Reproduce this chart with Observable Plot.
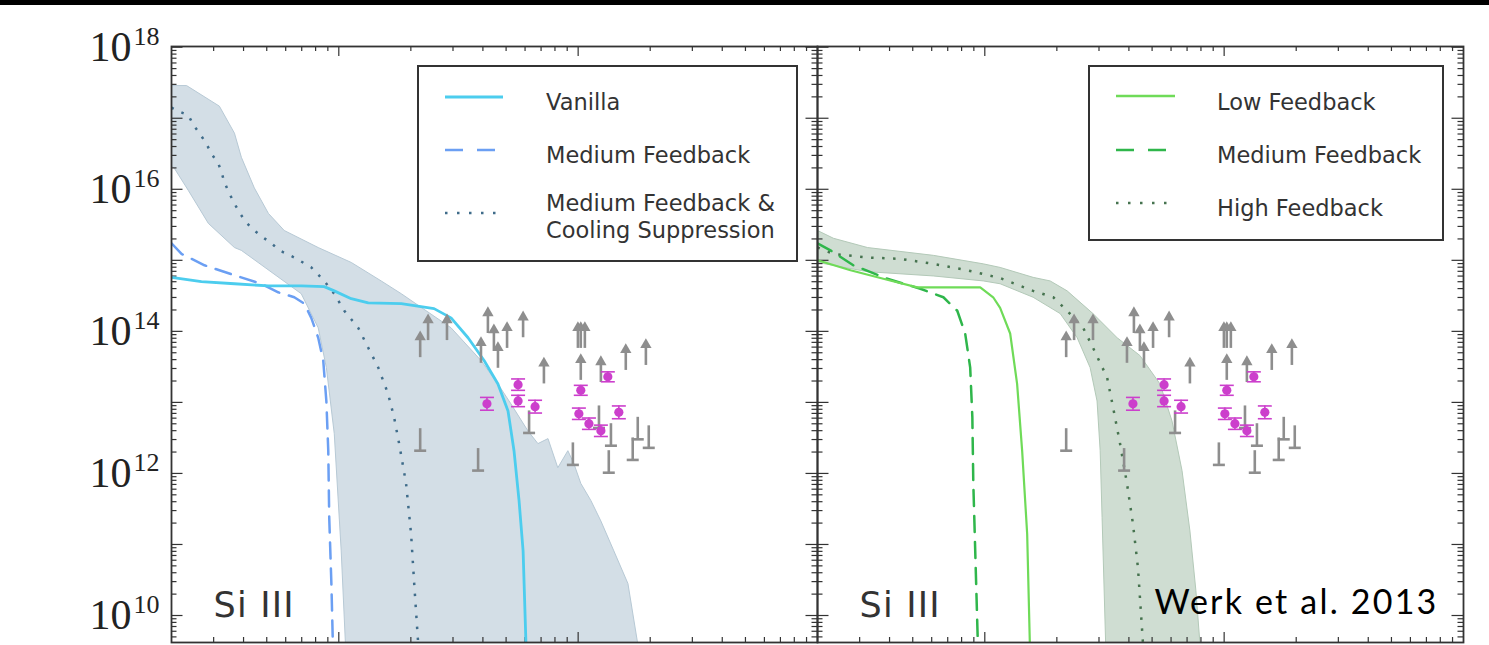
<!DOCTYPE html>
<html><head><meta charset="utf-8">
<script src="https://cdn.jsdelivr.net/npm/d3@7"></script>
<script src="https://cdn.jsdelivr.net/npm/@observablehq/plot@0.6"></script>
<style>
html,body{margin:0;padding:0;background:#fff;}
#bar{height:5px;background:#000;}
#chart{width:1489px;height:640px;}
</style></head><body>
<div id="bar"></div>
<div id="chart"></div>
<script>
// ---- data: [log10 R (kpc), log10 N (cm^-2)] ----
const panels = ["L", "R"];

// Left panel
const bandL = [
[0.301,17.46],[0.364,17.46],[0.501,17.17],[0.564,16.79],[0.593,16.45],[0.647,16.02],[0.706,15.66],[0.772,15.42],[0.914,15.18],[1.052,14.97],[1.177,14.71],[1.261,14.53],[1.469,14.05],[1.594,13.59],[1.665,13.26],[1.719,12.98],[1.790,12.60],[1.832,12.42],[1.874,12.49],[1.915,12.08],[1.957,12.32],[1.982,12.14],[2.011,11.86],[2.053,11.62],[2.095,11.33],[2.149,10.91],[2.208,10.45],[2.249,9.60],[2.262,9.36],
[1.031,9.36],[1.010,10.91],[0.981,12.56],[0.948,13.49],[0.914,14.05],[0.843,14.53],[0.593,15.14],[0.564,15.18],[0.455,15.52],[0.372,15.98],[0.314,16.29],[0.301,16.33]
];
const coolSupp = [
[0.301,17.15],[0.322,17.11],[0.372,17.04],[0.393,16.90],[0.418,16.79],[0.447,16.64],[0.468,16.50],[0.497,16.36],[0.510,16.24],[0.522,16.10],[0.543,15.94],[0.564,15.80],[0.585,15.67],[0.614,15.53],[0.647,15.42],[0.685,15.32],[0.718,15.24],[0.752,15.14],[0.814,15.04],[0.885,14.90],[0.939,14.71],[0.981,14.53],[1.023,14.29],[1.081,14.05],[1.123,13.77],[1.165,13.49],[1.206,13.12],[1.231,12.79],[1.252,12.42],[1.281,11.86],[1.302,11.15],[1.315,10.45],[1.331,9.64],[1.335,9.36]
];
const vanilla = [
[0.301,14.76],[0.426,14.70],[0.564,14.67],[0.706,14.64],[0.843,14.64],[0.939,14.63],[0.981,14.57],[1.052,14.46],[1.123,14.40],[1.261,14.39],[1.398,14.32],[1.469,14.19],[1.540,13.91],[1.607,13.59],[1.665,13.26],[1.707,12.88],[1.732,12.32],[1.753,11.62],[1.770,10.91],[1.782,9.60],[1.786,9.36]
];
const medFbL = [
[0.301,15.24],[0.343,15.09],[0.439,14.93],[0.564,14.79],[0.676,14.67],[0.747,14.55],[0.814,14.48],[0.856,14.39],[0.885,14.19],[0.914,13.91],[0.935,13.59],[0.948,13.02],[0.956,12.32],[0.960,11.38],[0.969,10.45],[0.977,9.36]
];

// Right panel
const bandR = [
[0.301,15.42],[0.368,15.31],[0.510,15.18],[0.785,15.07],[0.994,14.95],[1.064,14.90],[1.202,14.76],[1.273,14.71],[1.344,14.57],[1.452,14.25],[1.553,13.91],[1.648,13.66],[1.732,13.26],[1.782,12.74],[1.824,12.04],[1.857,11.19],[1.882,10.35],[1.899,9.60],[1.903,9.36],
[1.507,9.36],[1.490,11.38],[1.482,12.32],[1.469,13.02],[1.440,13.49],[1.386,13.91],[1.315,14.25],[1.202,14.48],[1.064,14.67],[0.994,14.71],[0.785,14.78],[0.510,14.84],[0.301,14.97]
];
const highFb = [
[0.301,15.18],[0.368,15.09],[0.510,15.04],[0.647,15.02],[0.785,14.95],[0.927,14.86],[1.064,14.75],[1.202,14.57],[1.286,14.48],[1.344,14.29],[1.411,14.05],[1.452,13.77],[1.511,13.35],[1.536,12.93],[1.565,12.42],[1.594,11.86],[1.619,11.29],[1.640,10.67],[1.661,9.60],[1.665,9.36]
];
const lowFb = [
[0.301,15.00],[0.439,14.86],[0.576,14.74],[0.718,14.62],[0.856,14.62],[0.981,14.62],[1.035,14.48],[1.064,14.33],[1.106,13.97],[1.135,13.26],[1.156,12.32],[1.177,11.15],[1.190,9.36]
];
const medFbR = [
[0.301,15.24],[0.355,15.14],[0.451,14.93],[0.593,14.74],[0.731,14.60],[0.827,14.48],[0.885,14.29],[0.918,13.97],[0.939,13.49],[0.948,12.79],[0.952,11.86],[0.960,10.91],[0.973,9.36]
];

// Observations (Werk et al. 2013), shown in both panels
const lowerLogR = [1.340,1.373,1.452,1.623,1.594,1.648,1.665,1.703,1.770,1.857,1.999,2.011,2.028,2.011,2.095,2.199,2.283];
const lowerLogN = [13.63,13.87,13.87,13.97,13.55,13.73,13.48,13.76,13.91,13.26,13.76,13.76,13.76,13.31,13.28,13.45,13.52];
const upperLogR = [1.340,1.582,1.795,1.978,2.087,2.137,2.128,2.228,2.249,2.295];
const upperLogN = [12.63,12.35,12.88,12.43,12.95,12.70,12.32,12.50,12.79,12.67];
const detLogR = [1.619,1.749,1.749,1.820,2.011,2.124,2.003,2.045,2.095,2.170];
const detLogN = [12.98,13.25,13.02,12.94,13.17,13.36,12.84,12.70,12.60,12.86];
const detErr  = [0.09,0.08,0.08,0.09,0.07,0.07,0.08,0.08,0.08,0.09];

// Axis ticks / labels
const yLabelExp = [18, 16, 14, 12, 10];
const yMajorExp = [10, 11, 12, 13, 14, 15, 16, 17, 18];
const minorMult = [2, 3, 4, 5, 6, 7, 8, 9];
const xMajor = [10, 100];
const xMinorBase = [1, 10, 100];

// ---- build tables ----
const rows = (pairs, panel) => pairs.map(([r, n]) => ({R: 10 ** r, N: 10 ** n, panel}));
const obs = (lr, ln, extra) => lr.map((r, i) => ({R: 10 ** r, N: 10 ** ln[i], err: extra ? extra[i] : 0}));
const lowerRows = obs(lowerLogR, lowerLogN);
const upperRows = obs(upperLogR, upperLogN);
const detRows = obs(detLogR, detLogN, detErr);

const yLo = 10 ** 9.62, yHi = 10 ** 18.01;
const yMajor = yMajorExp.map(e => 10 ** e);
const yMinor = [9, ...yMajorExp.slice(0, -1)].flatMap(e => minorMult.map(k => k * 10 ** e)).filter(v => v > yLo && v < yHi);
const xMinor = xMinorBase.flatMap(b => minorMult.map(k => k * b)).filter(v => v > 2 && v < 1000);

const W = 1489, H = 640, mL = 170, mR = 26, mT = 41, mB = 3;
const PW = (W - mL - mR) / 2, PH = H - mT - mB;

const hbar = {draw(ctx, size) { const w = Math.sqrt(size / Math.PI); ctx.moveTo(-w, 0); ctx.lineTo(w, 0); }};

const C = {
  bandL: "#d3dee6", bandLEdge: "#b7c9d5", dotL: "#3f6c8a", cyan: "#4ccdee", blue: "#6b9ff3",
  bandR: "#cfddd2", bandREdge: "#b3c9b8", dotR: "#46734f", lgreen: "#6fdb58", dgreen: "#2fb64b",
  grey: "#8e8e8e", mag: "#cc3fcc", axis: "#333"
};
const tk = {stroke: C.axis, strokeWidth: 1.2};

const chart = Plot.plot({
  width: W, height: H,
  marginTop: mT, marginBottom: mB, marginLeft: mL, marginRight: mR,
  style: {background: "white", overflow: "visible"},
  fx: {domain: panels, padding: 0, axis: null, label: null},
  x: {type: "log", domain: [2, 1000], axis: null},
  y: {type: "log", domain: [yLo, yHi], axis: null},
  marks: [
    Plot.line(rows(bandL, "L"), {x: "R", y: "N", fx: "panel", fill: C.bandL, stroke: C.bandLEdge, strokeWidth: 1, clip: true}),
    Plot.line(rows(bandR, "R"), {x: "R", y: "N", fx: "panel", fill: C.bandR, stroke: C.bandREdge, strokeWidth: 1, clip: true}),
    // ticks (inward, all sides)
    Plot.tickY(yMajor, {y: d => d, insetRight: PW - 12, ...tk}),
    Plot.tickY(yMajor, {y: d => d, insetLeft: PW - 12, ...tk}),
    Plot.tickY(yMinor, {y: d => d, insetRight: PW - 6, ...tk}),
    Plot.tickY(yMinor, {y: d => d, insetLeft: PW - 6, ...tk}),
    Plot.tickX(xMajor, {x: d => d, insetBottom: PH - 10, ...tk}),
    Plot.tickX(xMajor, {x: d => d, insetTop: PH - 10, ...tk}),
    Plot.tickX(xMinor, {x: d => d, insetBottom: PH - 5, ...tk}),
    Plot.tickX(xMinor, {x: d => d, insetTop: PH - 5, ...tk}),
    // model curves
    Plot.line(rows(coolSupp, "L"), {x: "R", y: "N", fx: "panel", stroke: C.dotL, strokeWidth: 2.5, strokeDasharray: "2.5,8.5", strokeLinecap: "butt", clip: true}),
    Plot.line(rows(medFbL, "L"), {x: "R", y: "N", fx: "panel", stroke: C.blue, strokeWidth: 2.5, strokeDasharray: "16,10", clip: true}),
    Plot.line(rows(vanilla, "L"), {x: "R", y: "N", fx: "panel", stroke: C.cyan, strokeWidth: 2.8, clip: true}),
    Plot.line(rows(highFb, "R"), {x: "R", y: "N", fx: "panel", stroke: C.dotR, strokeWidth: 2.5, strokeDasharray: "2.5,8.5", strokeLinecap: "butt", clip: true}),
    Plot.line(rows(medFbR, "R"), {x: "R", y: "N", fx: "panel", stroke: C.dgreen, strokeWidth: 2.5, strokeDasharray: "16,10", clip: true}),
    Plot.line(rows(lowFb, "R"), {x: "R", y: "N", fx: "panel", stroke: C.lgreen, strokeWidth: 2.2, clip: true}),
    // observations: lower limits (up arrows)
    Plot.ruleX(lowerRows, {x: "R", y1: "N", y2: d => d.N * 10 ** 0.29, stroke: C.grey, strokeWidth: 2.6}),
    Plot.dot(lowerRows, {x: "R", y: d => d.N * 10 ** 0.29, symbol: "triangle", r: 4.2, fill: C.grey}),
    // upper limits
    Plot.ruleX(upperRows, {x: "R", y1: "N", y2: d => d.N / 10 ** 0.31, stroke: C.grey, strokeWidth: 2.6}),
    Plot.dot(upperRows, {x: "R", y: d => d.N / 10 ** 0.31, symbol: hbar, r: 6, fill: "none", stroke: C.grey, strokeWidth: 2.6}),
    // detections
    Plot.ruleX(detRows, {x: "R", y1: d => d.N / 10 ** d.err, y2: d => d.N * 10 ** d.err, stroke: C.mag, strokeWidth: 1.6}),
    Plot.dot(detRows, {x: "R", y: d => d.N / 10 ** d.err, symbol: hbar, r: 7, fill: "none", stroke: C.mag, strokeWidth: 1.6}),
    Plot.dot(detRows, {x: "R", y: d => d.N * 10 ** d.err, symbol: hbar, r: 7, fill: "none", stroke: C.mag, strokeWidth: 1.6}),
    Plot.dot(detRows, {x: "R", y: "N", r: 4.6, fill: C.mag}),
    Plot.frame({stroke: C.axis, strokeWidth: 1.8}),
    // y tick labels (left panel)
    Plot.text(yLabelExp, {fx: () => "L", y: d => 10 ** d, text: () => "10", frameAnchor: "left", textAnchor: "end", dx: -40, fontFamily: "Liberation Serif", fontSize: 42, fill: "#222"}),
    Plot.text(yLabelExp, {fx: () => "L", y: d => 10 ** d, text: d => String(d), frameAnchor: "left", textAnchor: "start", dx: -38, dy: -11, fontFamily: "Liberation Serif", fontSize: 26, fill: "#222"}),
    // panel labels
    Plot.text(["Si III"], {text: d => d, frameAnchor: "bottom-left", textAnchor: "start", lineAnchor: "middle", dx: 42, dy: -37, fontFamily: "DejaVu Sans", fontSize: 35, fill: "#333"}),
    Plot.text(["Werk et al. 2013"], {fx: () => "R", text: d => d, frameAnchor: "bottom-right", textAnchor: "end", lineAnchor: "bottom", dx: -25, dy: -29, fontFamily: "Lato", fontSize: 34, fill: "#000"})
  ]
});
document.getElementById("chart").appendChild(chart);

// letter spacing tweaks
d3.select(chart).selectAll("text").each(function() {
  if (this.textContent === "Werk et al. 2013") d3.select(this).attr("letter-spacing", 2.2);
  if (this.textContent === "Si III") d3.select(this).attr("letter-spacing", 1.2);
});

// ---- legends ----
const legendL = {box: [418, 61, 379, 195], lineX: [445, 503], textX: 546, items: [
  {stroke: C.cyan, dash: null, width: 2.8, ly: 92, text: ["Vanilla"], ty: [97]},
  {stroke: C.blue, dash: "18,14", width: 2.5, ly: 145, text: ["Medium Feedback"], ty: [150]},
  {stroke: C.dotL, dash: "2.5,9.5", width: 2.5, ly: 208, text: ["Medium Feedback &", "Cooling Suppression"], ty: [198, 225]}
]};
const legendR = {box: [1089, 61, 354, 174], lineX: [1116, 1175], textX: 1217, items: [
  {stroke: C.lgreen, dash: null, width: 2.5, ly: 91, text: ["Low Feedback"], ty: [97]},
  {stroke: C.dgreen, dash: "18,14", width: 2.5, ly: 145, text: ["Medium Feedback"], ty: [150]},
  {stroke: C.dotR, dash: "2.5,9.5", width: 2.5, ly: 198, text: ["High Feedback"], ty: [203]}
]};
const svg = d3.select(chart);
for (const L of [legendL, legendR]) {
  const g = svg.append("g").attr("text-anchor", "start");
  g.append("rect").attr("x", L.box[0]).attr("y", L.box[1]).attr("width", L.box[2]).attr("height", L.box[3])
    .attr("fill", "white").attr("stroke", "#333").attr("stroke-width", 2);
  for (const it of L.items) {
    g.append("line").attr("x1", L.lineX[0]).attr("x2", L.lineX[1]).attr("y1", it.ly).attr("y2", it.ly)
      .attr("stroke", it.stroke).attr("stroke-width", it.width).attr("stroke-dasharray", it.dash);
    it.text.forEach((t, i) => {
      g.append("text").attr("x", L.textX).attr("y", it.ty[i]).attr("dominant-baseline", "central")
        .attr("text-anchor", "start")
        .attr("font-family", "DejaVu Sans").attr("font-size", 22.5).attr("fill", "#333").text(t);
    });
  }
}
</script>
</body></html>
